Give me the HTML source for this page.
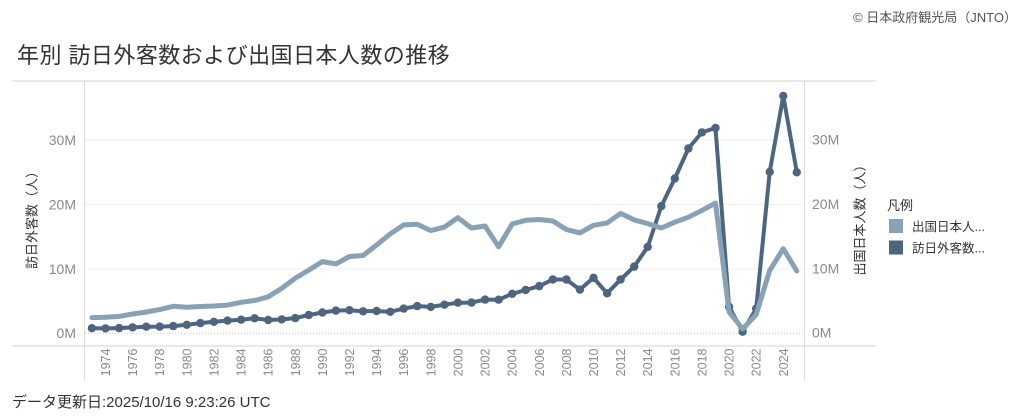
<!DOCTYPE html>
<html><head><meta charset="utf-8">
<style>
html,body{margin:0;padding:0;background:#fff;width:1024px;height:417px;overflow:hidden;}
svg{display:block;font-family:"Liberation Sans","Noto Sans CJK JP",sans-serif;}
</style></head>
<body>
<svg width="1024" height="417" viewBox="0 0 1024 417" xmlns="http://www.w3.org/2000/svg">
<rect width="1024" height="417" fill="#fff"/>
<!-- copyright -->
<text x="1017" y="22" font-size="13" fill="#555" text-anchor="end">© 日本政府観光局（JNTO）</text>
<!-- title -->
<text x="17" y="63" font-size="22" fill="#333" letter-spacing="0.45">年別 訪日外客数および出国日本人数の推移</text>
<!-- frame lines -->
<line x1="12" y1="81" x2="876" y2="81" stroke="#e2e2e2" stroke-width="1.5"/>
<line x1="12" y1="346" x2="876" y2="346" stroke="#e2e2e2" stroke-width="1.5"/>
<line x1="84.5" y1="81" x2="84.5" y2="381" stroke="#dcdcdc" stroke-width="1"/>
<line x1="804.5" y1="81" x2="804.5" y2="381" stroke="#dcdcdc" stroke-width="1"/>
<!-- gridlines -->
<g stroke="#efefef" stroke-width="1">
<line x1="85" y1="140.1" x2="804" y2="140.1"/>
<line x1="85" y1="204.5" x2="804" y2="204.5"/>
<line x1="85" y1="268.9" x2="804" y2="268.9"/>
</g>
<line x1="85" y1="333.3" x2="804" y2="333.3" stroke="#c8c8c8" stroke-width="1" stroke-dasharray="1,2"/>
<!-- left axis labels -->
<g font-size="14" fill="#8a8a8a" text-anchor="end">
<text x="76" y="145">30M</text>
<text x="76" y="209.4">20M</text>
<text x="76" y="273.8">10M</text>
<text x="76" y="338.2">0M</text>
</g>
<!-- right axis labels -->
<g font-size="14" fill="#8a8a8a">
<text x="812" y="144.5">30M</text>
<text x="812" y="208.9">20M</text>
<text x="812" y="273.3">10M</text>
<text x="812" y="337.5">0M</text>
</g>
<!-- axis titles -->
<text transform="translate(32,217) rotate(-90)" font-size="13" fill="#333" text-anchor="middle" dominant-baseline="central">訪日外客数（人）</text>
<text transform="translate(860,217) rotate(-90)" font-size="13" fill="#333" text-anchor="middle" dominant-baseline="central">出国日本人数（人）</text>
<!-- x labels -->
<g font-size="12.5" fill="#8a8a8a" text-anchor="end">
<text transform="translate(110,348.5) rotate(-90)">1974</text>
<text transform="translate(137.1,348.5) rotate(-90)">1976</text>
<text transform="translate(164.2,348.5) rotate(-90)">1978</text>
<text transform="translate(191.3,348.5) rotate(-90)">1980</text>
<text transform="translate(218.4,348.5) rotate(-90)">1982</text>
<text transform="translate(245.6,348.5) rotate(-90)">1984</text>
<text transform="translate(272.7,348.5) rotate(-90)">1986</text>
<text transform="translate(299.8,348.5) rotate(-90)">1988</text>
<text transform="translate(326.9,348.5) rotate(-90)">1990</text>
<text transform="translate(354,348.5) rotate(-90)">1992</text>
<text transform="translate(381.1,348.5) rotate(-90)">1994</text>
<text transform="translate(408.2,348.5) rotate(-90)">1996</text>
<text transform="translate(435.3,348.5) rotate(-90)">1998</text>
<text transform="translate(462.4,348.5) rotate(-90)">2000</text>
<text transform="translate(489.6,348.5) rotate(-90)">2002</text>
<text transform="translate(516.7,348.5) rotate(-90)">2004</text>
<text transform="translate(543.8,348.5) rotate(-90)">2006</text>
<text transform="translate(570.9,348.5) rotate(-90)">2008</text>
<text transform="translate(598,348.5) rotate(-90)">2010</text>
<text transform="translate(625.1,348.5) rotate(-90)">2012</text>
<text transform="translate(652.2,348.5) rotate(-90)">2014</text>
<text transform="translate(679.3,348.5) rotate(-90)">2016</text>
<text transform="translate(706.4,348.5) rotate(-90)">2018</text>
<text transform="translate(733.6,348.5) rotate(-90)">2020</text>
<text transform="translate(760.7,348.5) rotate(-90)">2022</text>
<text transform="translate(787.8,348.5) rotate(-90)">2024</text>
</g>
<!-- dark series: 訪日外客数 -->
<polyline fill="none" stroke="#4e6580" stroke-width="4" stroke-linejoin="round" stroke-linecap="round"
points="91.9,328.2 105.5,328.4 119.1,328.1 132.6,327.4 146.2,326.7 159.7,326.6 173.3,326.1 186.8,324.8 200.4,323.1 213.9,321.8 227.5,320.6 241.1,319.7 254.6,318.3 268.2,320.0 281.7,319.4 295.3,318.1 308.8,315.0 322.4,312.5 335.9,310.6 349.5,310.2 363.1,311.3 376.6,311.0 390.2,311.8 403.7,308.6 417.3,306.1 430.8,306.9 444.4,304.7 457.9,302.7 471.5,302.6 485.1,299.6 498.6,299.7 512.2,293.8 525.7,290.0 539.3,286.1 552.8,279.5 566.4,279.5 579.9,289.6 593.5,277.8 607.1,293.3 620.6,279.5 634.2,266.6 647.7,246.9 661.3,206.2 674.8,178.5 688.4,148.5 701.9,132.4 715.5,128.0 729.1,306.8 742.6,331.7 756.2,308.6 769.7,171.9 783.3,95.9 796.8,172.3"/>
<g fill="#4e6580">
<circle cx="91.9" cy="328.2" r="4.2"/><circle cx="105.5" cy="328.4" r="4.2"/><circle cx="119.1" cy="328.1" r="4.2"/><circle cx="132.6" cy="327.4" r="4.2"/><circle cx="146.2" cy="326.7" r="4.2"/><circle cx="159.7" cy="326.6" r="4.2"/><circle cx="173.3" cy="326.1" r="4.2"/><circle cx="186.8" cy="324.8" r="4.2"/><circle cx="200.4" cy="323.1" r="4.2"/><circle cx="213.9" cy="321.8" r="4.2"/><circle cx="227.5" cy="320.6" r="4.2"/><circle cx="241.1" cy="319.7" r="4.2"/><circle cx="254.6" cy="318.3" r="4.2"/><circle cx="268.2" cy="320.0" r="4.2"/><circle cx="281.7" cy="319.4" r="4.2"/><circle cx="295.3" cy="318.1" r="4.2"/><circle cx="308.8" cy="315.0" r="4.2"/><circle cx="322.4" cy="312.5" r="4.2"/><circle cx="335.9" cy="310.6" r="4.2"/><circle cx="349.5" cy="310.2" r="4.2"/><circle cx="363.1" cy="311.3" r="4.2"/><circle cx="376.6" cy="311.0" r="4.2"/><circle cx="390.2" cy="311.8" r="4.2"/><circle cx="403.7" cy="308.6" r="4.2"/><circle cx="417.3" cy="306.1" r="4.2"/><circle cx="430.8" cy="306.9" r="4.2"/><circle cx="444.4" cy="304.7" r="4.2"/><circle cx="457.9" cy="302.7" r="4.2"/><circle cx="471.5" cy="302.6" r="4.2"/><circle cx="485.1" cy="299.6" r="4.2"/><circle cx="498.6" cy="299.7" r="4.2"/><circle cx="512.2" cy="293.8" r="4.2"/><circle cx="525.7" cy="290.0" r="4.2"/><circle cx="539.3" cy="286.1" r="4.2"/><circle cx="552.8" cy="279.5" r="4.2"/><circle cx="566.4" cy="279.5" r="4.2"/><circle cx="579.9" cy="289.6" r="4.2"/><circle cx="593.5" cy="277.8" r="4.2"/><circle cx="607.1" cy="293.3" r="4.2"/><circle cx="620.6" cy="279.5" r="4.2"/><circle cx="634.2" cy="266.6" r="4.2"/><circle cx="647.7" cy="246.9" r="4.2"/><circle cx="661.3" cy="206.2" r="4.2"/><circle cx="674.8" cy="178.5" r="4.2"/><circle cx="688.4" cy="148.5" r="4.2"/><circle cx="701.9" cy="132.4" r="4.2"/><circle cx="715.5" cy="128.0" r="4.2"/><circle cx="729.1" cy="306.8" r="4.2"/><circle cx="742.6" cy="331.7" r="4.2"/><circle cx="756.2" cy="308.6" r="4.2"/><circle cx="769.7" cy="171.9" r="4.2"/><circle cx="783.3" cy="95.9" r="4.2"/><circle cx="796.8" cy="172.3" r="4.2"/>
</g>
<!-- gray series: 出国日本人数 -->
<polyline fill="none" stroke="#88a1b5" stroke-width="5" stroke-linejoin="round" stroke-linecap="round"
points="91.9,317.6 105.5,317.3 119.1,316.4 132.6,314.0 146.2,312.0 159.7,309.6 173.3,306.3 186.8,307.2 200.4,306.5 213.9,306.0 227.5,305.1 241.1,302.3 254.6,300.5 268.2,296.8 281.7,288.4 295.3,278.1 308.8,270.1 322.4,261.6 335.9,263.9 349.5,256.5 363.1,255.5 376.6,245.0 390.2,233.9 403.7,224.9 417.3,224.2 430.8,230.6 444.4,227.1 457.9,217.7 471.5,228.0 485.1,226.0 498.6,246.8 512.2,224.0 525.7,220.3 539.3,219.5 552.8,221.0 566.4,229.5 579.9,232.9 593.5,225.3 607.1,223.0 620.6,213.4 634.2,219.9 647.7,223.6 661.3,228.0 674.8,222.2 688.4,217.2 701.9,210.4 715.5,203.1 729.1,311.9 742.6,329.0 756.2,314.5 769.7,270.4 783.3,248.7 796.8,271.0"/>
<!-- legend -->
<text x="887" y="210" font-size="13" fill="#333">凡例</text>
<rect x="889" y="219" width="14" height="14" fill="#88a1b5"/>
<rect x="889" y="240.5" width="14" height="14" fill="#4e6580"/>
<text x="912" y="231" font-size="12.5" fill="#333">出国日本人...</text>
<text x="912" y="252.5" font-size="12.5" fill="#333">訪日外客数...</text>
<!-- footer -->
<text x="12" y="407" font-size="15" fill="#333">データ更新日:2025/10/16 9:23:26 UTC</text>
</svg>
</body></html>
